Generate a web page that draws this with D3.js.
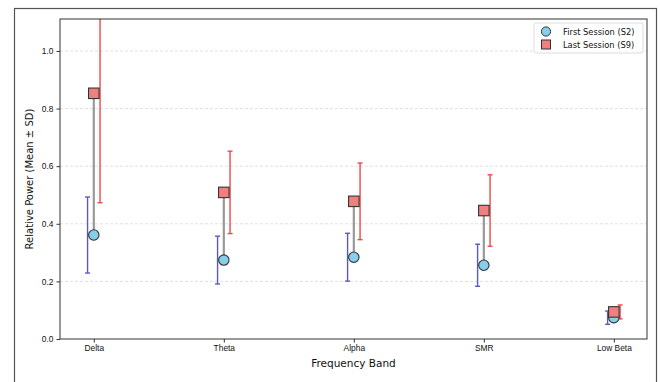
<!DOCTYPE html>
<html>
<head>
<meta charset="utf-8">
<script src="https://cdn.jsdelivr.net/npm/d3@7"></script>
<style>
  html, body { margin: 0; padding: 0; background: #fff; }
  svg { display: block; font-family: "DejaVu Sans", sans-serif; }
</style>
</head>
<body>
<div id="chart"></div>
<script>
// values
const bands = ['Delta', 'Theta', 'Alpha', 'SMR', 'Low Beta'];
const firstMean = [0.361, 0.274, 0.284, 0.256, 0.074];
const firstSD = [0.132, 0.083, 0.083, 0.073, 0.023];
const lastMean = [0.853, 0.509, 0.478, 0.446, 0.094];
const lastSD = [0.380, 0.143, 0.133, 0.124, 0.024];
const yTicks = [0.0, 0.2, 0.4, 0.6, 0.8, 1.0];

const width = 660, height = 382;
const m = { left: 60, right: 13, top: 19, bottom: 43 };

const svg = d3.select('#chart').append('svg')
  .attr('width', width)
  .attr('height', height);

// outer frame of the figure
svg.append('rect')
  .attr('x', 14.5).attr('y', 8.5)
  .attr('width', 642).attr('height', 400)
  .attr('fill', 'none')
  .attr('stroke', '#555')
  .attr('stroke-width', 1.2);

const x = d3.scaleLinear().domain([-0.26, 4.255]).range([m.left, width - m.right]);
const y = d3.scaleLinear().domain([0, 1.111]).range([height - m.bottom, m.top]);
const off = 0.048;

const g = svg.append('g');

// clip the marks to the axes box
svg.append('clipPath').attr('id', 'plot')
  .append('rect')
  .attr('x', m.left).attr('y', m.top)
  .attr('width', width - m.left - m.right)
  .attr('height', height - m.top - m.bottom);

// grid
g.append('g')
  .selectAll('line')
  .data(yTicks.filter(d => d > 0))
  .enter().append('line')
  .attr('x1', m.left).attr('x2', width - m.right)
  .attr('y1', d => y(d)).attr('y2', d => y(d))
  .attr('stroke', '#d8d8d8')
  .attr('stroke-width', 0.8)
  .attr('stroke-dasharray', '3,2');

const marks = g.append('g').attr('clip-path', 'url(#plot)');

function errorBars(means, sds, dx, color) {
  const eb = marks.append('g').attr('stroke', color).attr('stroke-width', 1.4);
  means.forEach((mu, i) => {
    const cx = x(i + dx);
    eb.append('line')
      .attr('x1', cx).attr('x2', cx)
      .attr('y1', y(mu - sds[i])).attr('y2', y(mu + sds[i]));
    [mu - sds[i], mu + sds[i]].forEach(v => {
      eb.append('line')
        .attr('x1', cx - 2.5).attr('x2', cx + 2.5)
        .attr('y1', y(v)).attr('y2', y(v));
    });
  });
}

errorBars(firstMean, firstSD, -off, '#5a5abf');
errorBars(lastMean, lastSD, off, '#ee4848');

// connector from first to last session
marks.append('g')
  .selectAll('line')
  .data(bands)
  .enter().append('line')
  .attr('x1', (d, i) => x(i)).attr('x2', (d, i) => x(i))
  .attr('y1', (d, i) => y(firstMean[i]))
  .attr('y2', (d, i) => y(lastMean[i]))
  .attr('stroke', '#999')
  .attr('stroke-width', 2.2);

marks.append('g')
  .selectAll('circle')
  .data(firstMean)
  .enter().append('circle')
  .attr('cx', (d, i) => x(i))
  .attr('cy', d => y(d))
  .attr('r', 5.2)
  .attr('fill', '#87ceeb')
  .attr('stroke', '#333')
  .attr('stroke-width', 1.1);

const sq = 10.5;
marks.append('g')
  .selectAll('rect')
  .data(lastMean)
  .enter().append('rect')
  .attr('x', (d, i) => x(i) - sq / 2)
  .attr('y', d => y(d) - sq / 2)
  .attr('width', sq).attr('height', sq)
  .attr('fill', '#f08080')
  .attr('stroke', '#333')
  .attr('stroke-width', 1.1);

// axes
const xAxis = g.append('g')
  .attr('transform', `translate(0,${height - m.bottom})`)
  .call(d3.axisBottom(x).tickValues(d3.range(bands.length)).tickFormat(i => bands[i]).tickSize(3.5).tickPadding(3));
const yAxis = g.append('g')
  .attr('transform', `translate(${m.left},0)`)
  .call(d3.axisLeft(y).tickValues(yTicks).tickFormat(d3.format('.1f')).tickSize(3.5).tickPadding(3));

[xAxis, yAxis].forEach(a => {
  a.select('.domain').remove();
  a.selectAll('.tick line').attr('stroke', '#333');
  a.selectAll('.tick text').attr('fill', '#111').style('font-size', '8.4px');
});

// box
g.append('rect')
  .attr('x', m.left).attr('y', m.top)
  .attr('width', width - m.left - m.right)
  .attr('height', height - m.top - m.bottom)
  .attr('fill', 'none')
  .attr('stroke', '#333')
  .attr('stroke-width', 1);

// axis labels
svg.append('text')
  .attr('x', (m.left + width - m.right) / 2)
  .attr('y', 367)
  .attr('text-anchor', 'middle')
  .style('font-size', '10.5px')
  .attr('fill', '#111')
  .text('Frequency Band');

svg.append('text')
  .attr('transform', `translate(33,${(m.top + height - m.bottom) / 2}) rotate(-90)`)
  .attr('text-anchor', 'middle')
  .style('font-size', '10px')
  .attr('fill', '#111')
  .text('Relative Power (Mean ± SD)');

// legend
const lg = svg.append('g').attr('transform', 'translate(534,23)');
lg.append('rect')
  .attr('width', 109).attr('height', 30).attr('rx', 2)
  .attr('fill', '#fff').attr('fill-opacity', 0.8)
  .attr('stroke', '#ddd');
lg.append('circle')
  .attr('cx', 12).attr('cy', 8.5).attr('r', 4.6)
  .attr('fill', '#87ceeb').attr('stroke', '#333');
lg.append('rect')
  .attr('x', 7.5).attr('y', 17).attr('width', 9).attr('height', 9)
  .attr('fill', '#f08080').attr('stroke', '#333');
lg.selectAll('text')
  .data(['First Session (S2)', 'Last Session (S9)'])
  .enter().append('text')
  .attr('x', 29)
  .attr('y', (d, i) => 11.5 + i * 13)
  .style('font-size', '8.3px')
  .attr('fill', '#111')
  .text(d => d);
</script>
</body>
</html>
